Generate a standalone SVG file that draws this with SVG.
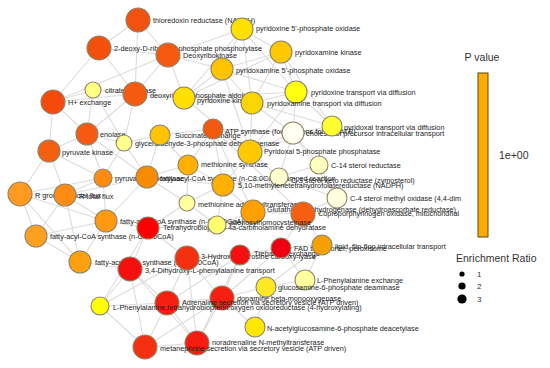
<svg xmlns="http://www.w3.org/2000/svg" width="550" height="368" viewBox="0 0 550 368">
<style>
.e{stroke:#dcdcdc;stroke-width:1.1;fill:none}
.n{stroke:#8f8468;stroke-width:1.1}
.t{font-family:"Liberation Sans",Arial,sans-serif;font-size:7.3px;fill:#1e1e1e;dominant-baseline:central}
.lg{font-family:"Liberation Sans",Arial,sans-serif;font-size:10.5px;fill:#333;dominant-baseline:central}
.ls{font-family:"Liberation Sans",Arial,sans-serif;font-size:8px;fill:#333;dominant-baseline:central}
</style>
<rect width="550" height="368" fill="#ffffff"/>
<g id="connectors">
<path class="e" d="M138,20L99,48M138,20L168,55M138,20L135,94M99,48L168,55M99,48L53,102M99,48L135,94M168,55L135,94M168,55L184,98M53,102L168,55M53,102L93,90M53,102L135,94M93,90L135,94M53,102L87,134M53,102L49,151M93,90L87,134M93,90L124,143M135,94L87,134M135,94L124,143M135,94L184,98M168,55L222,69M168,55L242,29"/>
<path class="e" d="M184,98L242,29M184,98L222,69M184,98L252,103M184,98L296,92M184,98L281,52M242,29L222,69M242,29L281,52M242,29L252,103M242,29L296,92M281,52L222,69M281,52L296,92M281,52L252,103M222,69L252,103M222,69L296,92M296,92L252,103M252,103L250,152M184,98L250,152M222,69L250,152M296,92L250,152M296,92L332,126M252,103L332,126M281,52L332,126M250,152L332,126M250,152L293,133M252,103L293,133M296,92L293,133M332,126L293,133"/>
<path class="e" d="M87,134L49,151M87,134L124,143M49,151L103,178M87,134L103,178M124,143L103,178M124,143L147,177M87,134L147,177M160,135L147,177M160,135L188,165M160,135L213,129M124,143L160,135M103,178L147,177M103,178L65,195M147,177L65,195M147,177L106,221M147,177L188,165M147,177L187,203M147,177L223,185M188,165L187,203M188,165L223,185M188,165L213,129M187,203L223,185M187,203L217,225M187,203L148,228M213,129L250,152M213,129L223,185M213,129L293,133M213,129L253,212M213,129L303,214M293,133L319,165M293,133L279,177M293,133L337,198M319,165L279,177M319,165L337,198M279,177L337,198M279,177L223,185M250,152L279,177M250,152L223,185M223,185L253,212M223,185L217,225M253,212L303,214M253,212L217,225M303,214L337,198M303,214L322,245M303,214L281,248M217,225L148,228"/>
<path class="e" d="M20,194L65,195M20,194L36,236M20,194L106,221M20,194L80,262M65,195L106,221M65,195L36,236M65,195L80,262M106,221L36,236M106,221L80,262M36,236L80,262M103,178L106,221M103,178L20,194M49,151L20,194M49,151L65,195M80,262L130,269M106,221L148,228"/>
<path class="e" d="M148,228L130,269M148,228L187,258M148,228L100,306M130,269L187,258M130,269L100,306M130,269L167,303M130,269L145,347M130,269L197,343M187,258L167,303M187,258L240,255M187,258L222,298M187,258L197,343M240,255L281,248M240,255L222,298M240,255L167,303M281,248L322,245M281,248L305,280M281,248L222,298M322,245L305,280M322,245L266,287M305,280L266,287M266,287L255,327M266,287L222,298M222,298L167,303M222,298L197,343M222,298L145,347M167,303L197,343M167,303L145,347M197,343L145,347M100,306L145,347M100,306L167,303M100,306L187,258M222,298L255,327M240,255L197,343"/>
</g>
<g id="n-thioredoxin"><circle class="n" cx="138" cy="20" r="12" fill="#f2520f"/><text class="t" x="153" y="20">thioredoxin reductase (NADPH)</text></g>
<g id="n-deoxyribose1p"><circle class="n" cx="99" cy="48" r="12" fill="#f3500e"/><text class="t" x="114" y="48">2-deoxy-D-ribose 1-phosphate phosphorylase</text></g>
<g id="n-deoxyribokinase"><circle class="n" cx="168" cy="55" r="12" fill="#f55a10"/><text class="t" x="183" y="55">Deoxyribokinase</text></g>
<g id="n-citrate"><circle class="n" cx="93" cy="90" r="8" fill="#ffff80"/><text class="t" x="105" y="90">citrate synthase</text></g>
<g id="n-hexchange"><circle class="n" cx="53" cy="102" r="12" fill="#f54a0c"/><text class="t" x="68" y="102">H+ exchange</text></g>
<g id="n-aldolase"><circle class="n" cx="135" cy="94" r="12" fill="#f45a10"/><text class="t" x="150" y="95">deoxyribose-phosphate aldolase</text></g>
<g id="n-pdxk"><circle class="n" cx="184" cy="98" r="11" fill="#ffe000"/><text class="t" x="197" y="100">pyridoxine kinase</text></g>
<g id="n-pnpo"><circle class="n" cx="242" cy="29" r="11" fill="#ffe000"/><text class="t" x="256" y="28">pyridoxine 5'-phosphate oxidase</text></g>
<g id="n-pmk"><circle class="n" cx="281" cy="52" r="11" fill="#ffc800"/><text class="t" x="295" y="52">pyridoxamine kinase</text></g>
<g id="n-pmpo"><circle class="n" cx="222" cy="69" r="11" fill="#ffc400"/><text class="t" x="236" y="70">pyridoxamine 5'-phosphate oxidase</text></g>
<g id="n-pdxtr"><circle class="n" cx="296" cy="92" r="11" fill="#ffff10"/><text class="t" x="311" y="92">pyridoxine transport via diffusion</text></g>
<g id="n-pmtr"><circle class="n" cx="252" cy="103" r="11" fill="#f8d400"/><text class="t" x="267" y="103">pyridoxamine transport via diffusion</text></g>
<g id="n-enolase"><circle class="n" cx="87" cy="134" r="11" fill="#f55a10"/><text class="t" x="100" y="134">enolase</text></g>
<g id="n-pk"><circle class="n" cx="49" cy="151" r="11" fill="#f56010"/><text class="t" x="62" y="152">pyruvate kinase</text></g>
<g id="n-gapdh"><circle class="n" cx="124" cy="143" r="8" fill="#ffff90"/><text class="t" x="135" y="143">glyceraldehyde-3-phosphate dehydrogenase</text></g>
<g id="n-succinate"><circle class="n" cx="160" cy="135" r="10" fill="#ffc400"/><text class="t" x="175" y="135">Succinate exchange</text></g>
<g id="n-pc"><circle class="n" cx="103" cy="178" r="9" fill="#ff8c10"/><text class="t" x="115" y="178">pyruvate carboxylase</text></g>
<g id="n-fac8"><circle class="n" cx="147" cy="177" r="11" fill="#f88c00"/><text class="t" x="160" y="178">fatty-acyl-CoA synthase (n-C8:0CoA), lumped reaction</text></g>
<g id="n-metsyn"><circle class="n" cx="188" cy="165" r="10" fill="#ffb000"/><text class="t" x="201" y="164">methionine synthase</text></g>
<g id="n-mat"><circle class="n" cx="187" cy="203" r="8" fill="#ffffa0"/><text class="t" x="198" y="204">methionine adenosyltransferase</text></g>
<g id="n-rgroup"><circle class="n" cx="20" cy="194" r="12" fill="#ff9a20"/><text class="t" x="35" y="195">R group artificial flux</text></g>
<g id="n-rtotal"><circle class="n" cx="65" cy="195" r="11" fill="#ff8c10"/><text class="t" x="79" y="196">R total flux</text></g>
<g id="n-fac10"><circle class="n" cx="106" cy="221" r="11" fill="#ff9a10"/><text class="t" x="120" y="221">fatty-acyl-CoA synthase (n-C10:0CoA)</text></g>
<g id="n-fac14"><circle class="n" cx="36" cy="236" r="11" fill="#ffa020"/><text class="t" x="50" y="236">fatty-acyl-CoA synthase (n-C14:0CoA)</text></g>
<g id="n-fac12"><circle class="n" cx="80" cy="262" r="11" fill="#ffa010"/><text class="t" x="95" y="262">fatty-acyl-CoA synthase (n-C12:0CoA)</text></g>
<g id="n-thbpt"><circle class="n" cx="148" cy="228" r="11" fill="#ff0000"/><text class="t" x="163" y="227">Tetrahydrobiopterin-4a-carbinolamine dehydratase</text></g>
<g id="n-atps"><circle class="n" cx="213" cy="129" r="10" fill="#f05a10"/><text class="t" x="225" y="131">ATP synthase (four protons for one ATP)</text></g>
<g id="n-pdxp"><circle class="n" cx="250" cy="152" r="12" fill="#ffc800"/><text class="t" x="264" y="151">Pyridoxal 5-phosphate phosphatase</text></g>
<g id="n-precursor"><circle class="n" cx="293" cy="133" r="11" fill="#fffff2"/><text class="t" x="306" y="133">cholesterol precursor intracellular transport</text></g>
<g id="n-pyrdxltr"><circle class="n" cx="332" cy="126" r="10" fill="#ffff30"/><text class="t" x="344" y="127">pyridoxal transport via diffusion</text></g>
<g id="n-c14str"><circle class="n" cx="319" cy="165" r="9" fill="#ffffc0"/><text class="t" x="331" y="165">C-14 sterol reductase</text></g>
<g id="n-c3stkr"><circle class="n" cx="279" cy="177" r="9" fill="#ffffd0"/><text class="t" x="291" y="180">C-3 sterol keto reductase (zymosterol)</text></g>
<g id="n-mthfr"><circle class="n" cx="223" cy="185" r="11" fill="#ffb000"/><text class="t" x="238" y="185">5,10-methylenetetrahydrofolatereductase (NADPH)</text></g>
<g id="n-c4stmo"><circle class="n" cx="337" cy="198" r="10" fill="#ffffe0"/><text class="t" x="350" y="198">C-4 sterol methyl oxidase (4,4-dim</text></g>
<g id="n-gthdh"><circle class="n" cx="253" cy="212" r="12" fill="#ffa000"/><text class="t" x="267" y="209">Glutathione dehydrogenase (dehydroascorbate reductase)</text></g>
<g id="n-cpppg"><circle class="n" cx="303" cy="214" r="12" fill="#f56010"/><text class="t" x="318" y="213">Coproporphyrinogen oxidase, mitochondrial</text></g>
<g id="n-ahc"><circle class="n" cx="217" cy="225" r="9" fill="#ffff70"/><text class="t" x="229" y="222">adenosylhomocysteinase</text></g>
<g id="n-dopatr"><circle class="n" cx="130" cy="269" r="12" fill="#f51010"/><text class="t" x="145" y="270">3,4-Dihydroxy-L-phenylalanine transport</text></g>
<g id="n-tyrdc"><circle class="n" cx="187" cy="258" r="12" fill="#f53010"/><text class="t" x="201" y="256">3-Hydroxy-L-tyrosine carboxy-lyase</text></g>
<g id="n-treh"><circle class="n" cx="240" cy="255" r="10" fill="#f51010"/><text class="t" x="254" y="253">Trehalose exchange</text></g>
<g id="n-fad"><circle class="n" cx="281" cy="248" r="10" fill="#ee0010"/><text class="t" x="294" y="248">FAD transporter, peroxisome</text></g>
<g id="n-flipflop"><circle class="n" cx="322" cy="245" r="10" fill="#f5a000"/><text class="t" x="335" y="246">lipid, flip-flop intracellular transport</text></g>
<g id="n-pheex"><circle class="n" cx="305" cy="280" r="10" fill="#ffffa0"/><text class="t" x="317" y="280">L-Phenylalanine exchange</text></g>
<g id="n-g6pda"><circle class="n" cx="266" cy="287" r="10" fill="#fce824"/><text class="t" x="278" y="287">glucosamine-6-phosphate deaminase</text></g>
<g id="n-dbh"><circle class="n" cx="222" cy="298" r="12" fill="#f52010"/><text class="t" x="237" y="298">dopamine beta-monooxygenase</text></g>
<g id="n-adrsec"><circle class="n" cx="167" cy="303" r="12" fill="#f52010"/><text class="t" x="182" y="302">Adrenaline secretion via secretory vesicle (ATP driven)</text></g>
<g id="n-phehyd"><circle class="n" cx="100" cy="306" r="9" fill="#ffff00"/><text class="t" x="113" y="307">L-Phenylalanine,tetrahydrobiopterin:oxygen oxidoreductase (4-hydroxylating)</text></g>
<g id="n-agdc"><circle class="n" cx="255" cy="327" r="10" fill="#ffe800"/><text class="t" x="267" y="328">N-acetylglucosamine-6-phosphate deacetylase</text></g>
<g id="n-pnmt"><circle class="n" cx="197" cy="343" r="12" fill="#f51c10"/><text class="t" x="212" y="342">noradrenaline N-methyltransferase</text></g>
<g id="n-metsec"><circle class="n" cx="145" cy="347" r="12" fill="#f53010"/><text class="t" x="160" y="348">metanephrine secretion via secretory vesicle (ATP driven)</text></g>
<g id="legend">
<text class="lg" x="482" y="57" text-anchor="middle">P value</text>
<rect x="478" y="73" width="10" height="164" fill="#ffab00" stroke="#5a4a10" stroke-width="1"/>
<text class="lg" x="499" y="155">1e+00</text>
<text class="lg" x="456" y="258">Enrichment Ratio</text>
<circle cx="462" cy="274" r="2.6" fill="#000"/>
<circle cx="462" cy="286" r="3.6" fill="#000"/>
<circle cx="462" cy="299" r="4.6" fill="#000"/>
<text class="ls" x="477" y="274">1</text>
<text class="ls" x="477" y="286">2</text>
<text class="ls" x="477" y="299">3</text>
</g>
</svg>
